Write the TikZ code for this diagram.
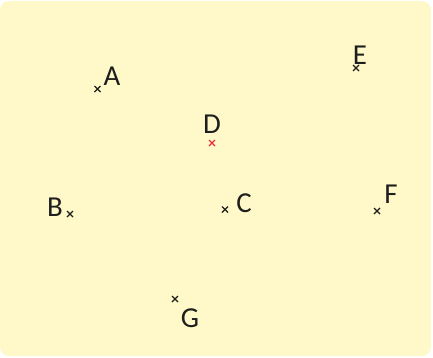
\documentclass[tikz,border=0pt]{standalone}
\usepackage{fontspec}
\setmainfont{Carlito}
\definecolor{bgyellow}{HTML}{FFF9C9}
\definecolor{txt}{HTML}{1E1E1E}
\definecolor{redx}{HTML}{E8303C}
\tikzset{
  lbl/.style={text=txt, inner sep=0pt, font=\fontsize{29}{29}\selectfont},
  crossmark/.style={line width=1.1bp, draw=txt},
  redmark/.style={line width=1.1bp, draw=redx}
}
\newcommand{\xmark}[2]{\draw[#1] ($(#2)+(-3,-3)$) -- ($(#2)+(3,3)$) ($(#2)+(-3,3)$) -- ($(#2)+(3,-3)$);}
\usetikzlibrary{calc}
\begin{document}
\begin{tikzpicture}[x=1bp,y=-1bp]
\useasboundingbox (0,0) rectangle (433,357);
\fill[white] (0,0) rectangle (433,357);
\fill[bgyellow, rounded corners=9bp] (0,1) rectangle (431,356);
% points
\coordinate (pA) at (97.5,89);
\coordinate (pB) at (70,214);
\coordinate (pC) at (225,209.5);
\coordinate (pD) at (212,143);
\coordinate (pE) at (356,68);
\coordinate (pF) at (377,211);
\coordinate (pG) at (175,299);
% labels
\node[lbl] (A) at (112,76) {A};
\node[lbl] (B) at (55,207.5) {B};
\node[lbl] (C) at (244,203.5) {C};
\node[lbl] (D) at (212,124.5) {D};
\node[lbl] (E) at (360,55.5) {E};
\node[lbl] (F) at (391,194.5) {F};
\node[lbl] (G) at (190,318.5) {G};
% crosses
\xmark{crossmark}{pA}
\xmark{crossmark}{pB}
\xmark{crossmark}{pC}
\xmark{redmark}{pD}
\xmark{crossmark}{pE}
\xmark{crossmark}{pF}
\xmark{crossmark}{pG}
\end{tikzpicture}
\end{document}
